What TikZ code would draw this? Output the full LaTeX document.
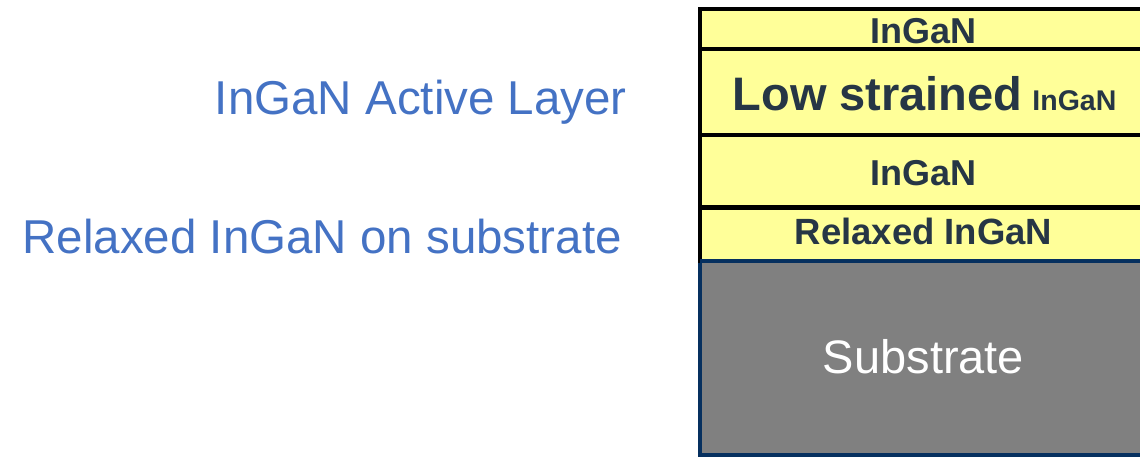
\documentclass[tikz,border=0pt]{standalone}
\usepackage{fontspec}
\setmainfont{Liberation Sans}
\definecolor{labelblue}{HTML}{4472C4}
\definecolor{layeryellow}{HTML}{FFFF99}
\definecolor{inkslate}{HTML}{263645}
\definecolor{subgray}{HTML}{808080}
\definecolor{subnavy}{HTML}{06305F}
\begin{document}
\begin{tikzpicture}[x=1pt,y=-1pt,
  layer/.style={fill=layeryellow, draw=black, line width=4.5pt, line join=miter},
  stacktext/.style={text=inkslate, inner sep=0pt, anchor=base, font=\bfseries},
  sidelabel/.style={text=labelblue, inner sep=0pt, anchor=base east,
    font=\fontsize{47.5}{52}\selectfont}]
\useasboundingbox (0,0) rectangle (1140,456);
\clip (0,0) rectangle (1140,456);

% substrate block
\fill[subgray] (700,261) rectangle (1150,455);
\draw[subnavy, line width=4.5pt, line join=miter]
  (1150,261) -- (700,261) -- (700,455) -- (1150,455);

% epitaxial layers, top to bottom
\path[layer] (700,9)     rectangle (1150,49);
\path[layer] (700,49)    rectangle (1150,135);
\path[layer] (700,135)   rectangle (1150,207.5);
\path[layer] (700,207.5) rectangle (1150,261);
\draw[subnavy, line width=4.5pt] (700,261) -- (1150,261);

% layer names
\node[stacktext, font=\bfseries\fontsize{36}{40}\selectfont] (top) at (923,43) {InGaN};
\node[stacktext] (active) at (924.5,110)
  {{\fontsize{47}{52}\selectfont Low strained}\hspace{10pt}{\fontsize{28.5}{30}\selectfont InGaN}};
\node[stacktext, font=\bfseries\fontsize{36}{40}\selectfont] (mid) at (923,185) {InGaN};
\node[stacktext, font=\bfseries\fontsize{36.5}{40}\selectfont] (relaxed) at (923.5,244) {Relaxed InGaN};
\node[text=white, inner sep=0pt, anchor=base, font=\fontsize{47}{52}\selectfont]
  (substrate) at (923.5,373) {Substrate};

% side annotations
\node[sidelabel] (activelabel) at (627,114) {InGaN Active Layer};
\node[sidelabel] (relaxedlabel) at (622,253) {Relaxed InGaN on substrate};
\end{tikzpicture}
\end{document}
